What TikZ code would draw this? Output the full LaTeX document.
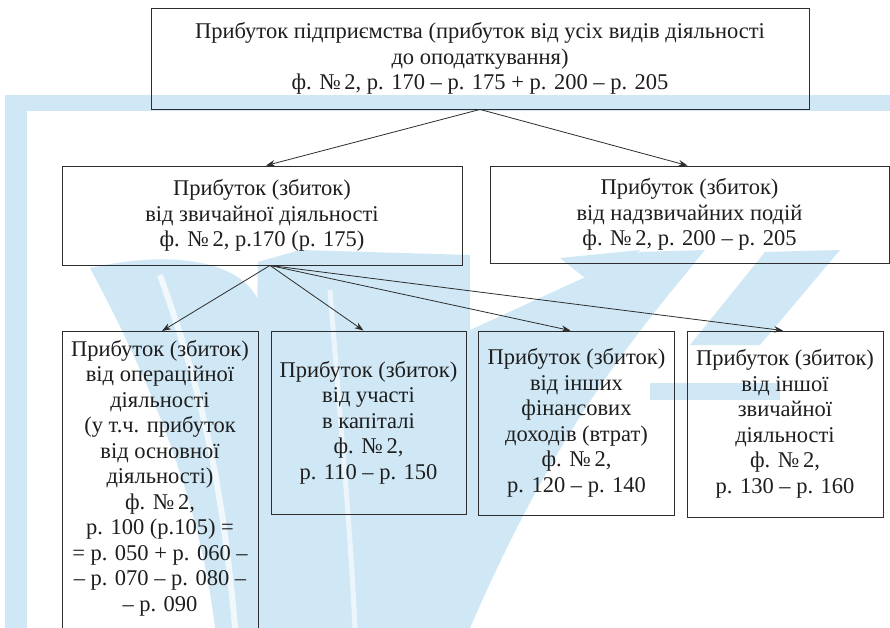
\documentclass[tikz,border=0pt]{standalone}
\usepackage{fontspec}
\setmainfont{Liberation Serif}
\usetikzlibrary{arrows.meta,calc}
\definecolor{wm}{RGB}{208,232,245}
\definecolor{ink}{RGB}{30,30,30}
\definecolor{edge}{RGB}{45,45,45}
\begin{document}
\begin{tikzpicture}[x=1pt,y=-1pt,
  box/.style={draw=edge,line width=0.9pt,rectangle,inner sep=0pt,align=center,text=ink,
    font=\fontsize{22.5}{25.5}\selectfont},
  txt/.style={inner sep=0pt,align=center,text=ink,font=\fontsize{22.5}{25.5}\selectfont},
  conn/.style={draw=edge,line width=0.8pt,-{Stealth[length=9pt,width=6.5pt]}}]
\useasboundingbox (0,0) rectangle (890,628);
\fill[white] (0,0) rectangle (890,628);
% watermark (light blue emblem behind the chart)
\begin{scope}
\clip (0,0) rectangle (890,628);
\fill[wm] (5,95) rectangle (890,111);
\fill[wm] (5,95) rectangle (27,628);
\fill[wm] (258,262) -- (300,250) -- (470,255) -- (470,628) -- (250,628) -- cycle;
\fill[wm] (90,268) .. controls (170,250) and (240,260) .. (258,300) -- (258,628) -- (215,628) .. controls (200,500) and (150,380) .. cycle;
\fill[wm] (470,330) -- (640,252) -- (705,250) .. controls (640,330) and (560,420) .. (470,628) -- (445,628) -- cycle;
\fill[wm] (690,345) -- (765,252) -- (840,250) -- (760,345) -- cycle;
\fill[wm] (650,383) rectangle (780,400);
\fill[wm] (560,258) -- (640,250) -- (600,290) -- cycle;
\draw[white,line width=6pt,opacity=0.7] (160,275) .. controls (190,360) and (220,450) .. (235,628);
\draw[white,line width=5pt,opacity=0.6] (330,290) .. controls (340,420) and (350,520) .. (355,628);
\end{scope}
% boxes
\node[box,minimum width=658pt,minimum height=101pt] (top) at (480,58.5)
  {Прибуток підприємства (прибуток від усіх видів діяльності\\до оподаткування)\\ф. №\,2, р. 170 – р. 175 + р. 200 – р. 205};
\node[box,minimum width=400pt,minimum height=99pt] (ord) at (262,215.5)
  {Прибуток (збиток)\\від звичайної діяльності\\ф. №\,2, р.170 (р. 175)};
\node[box,minimum width=399pt,minimum height=97pt] (ext) at (689.5,214.5)
  {Прибуток (збиток)\\від надзвичайних подій\\ф. №\,2, р. 200 – р. 205};
\node[box,minimum width=196pt,minimum height=320pt,anchor=north] (op) at (160,331) {};
\node[txt] (opt) at (160,478)
  {Прибуток (збиток)\\від операційної\\діяльності\\(у т.ч. прибуток\\від основної\\діяльності)\\ф. №\,2,\\р. 100 (р.105) =\\= р. 050 + р. 060 –\\– р. 070 – р. 080 –\\– р. 090};
\node[box,minimum width=195pt,minimum height=183pt] (cap) at (368.5,422.5)
  {Прибуток (збиток)\\від участі\\в капіталі\\ф. №\,2,\\р. 110 – р. 150};
\node[box,minimum width=196pt,minimum height=184pt] (fin) at (576.5,423)
  {Прибуток (збиток)\\від інших\\фінансових\\доходів (втрат)\\ф. №\,2,\\р. 120 – р. 140};
\node[box,minimum width=196pt,minimum height=186pt] (oth) at (785,424)
  {Прибуток (збиток)\\від іншої\\звичайної\\діяльності\\ф. №\,2,\\р. 130 – р. 160};
% connectors
\coordinate (ts) at (top.south);
\coordinate (os) at ([xshift=8pt]ord.south);
\draw[conn] (ts) -- ([xshift=4pt]ord.north);
\draw[conn] (ts) -- ([xshift=-2pt]ext.north);
\draw[conn] (os) -- ([xshift=2pt]op.north);
\draw[conn] (os) -- ([xshift=-5pt]cap.north);
\draw[conn] (os) -- ([xshift=-6pt]fin.north);
\draw[conn] (os) -- ([xshift=-2pt]oth.north);
\end{tikzpicture}
\end{document}
